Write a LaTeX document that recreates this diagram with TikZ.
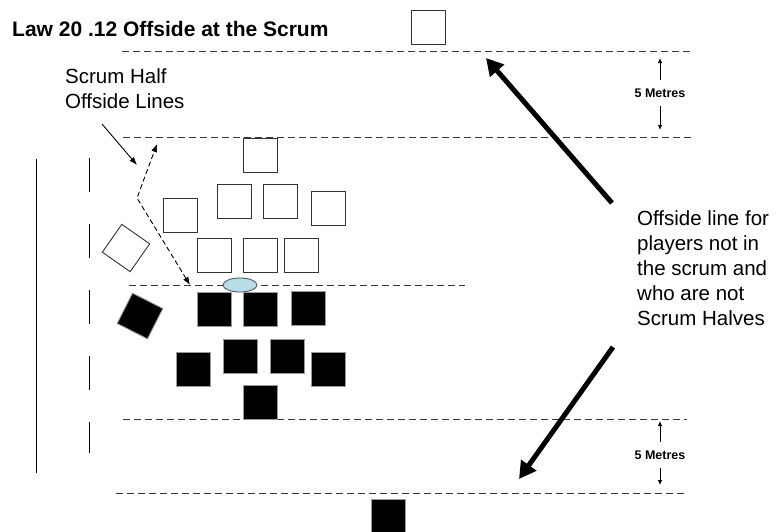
\documentclass[tikz,border=0pt]{standalone}
\usepackage{fontspec}
\setmainfont{Liberation Sans}
\usepackage{xcolor}
\usepackage{tikz}
\usetikzlibrary{arrows.meta, shapes.geometric}
\definecolor{ballcolor}{RGB}{183,221,232}
\definecolor{linecolor}{RGB}{55,55,55}

\begin{document}
\begin{tikzpicture}[x=1pt, y=-1pt,
    attacker/.style={rectangle, draw=black!80, fill=white, line width=0.9pt, minimum size=34pt, inner sep=0pt},
    defender/.style={rectangle, draw=black!40, fill=black, line width=0.9pt, minimum size=34pt, inner sep=0pt},
    offline/.style={draw=linecolor, line width=1pt, dash pattern=on 7pt off 4pt},
    bigarrow/.style={-{Triangle[length=17pt,width=18pt]}, line width=5pt},
    dimarrow/.style={-{Latex[length=5pt,width=4.5pt]}, line width=0.8pt},
    halfline/.style={{Latex[length=8pt,width=6pt]}-{Latex[length=8pt,width=6pt]}, line width=0.9pt, dash pattern=on 5pt off 3pt},
    notetext/.style={font=\fontsize{20.5}{25}\selectfont, align=left, anchor=north west, inner sep=0pt},
    metres/.style={font=\fontsize{12.5}{15}\selectfont\bfseries, inner xsep=2pt, inner ysep=8pt}]
                \useasboundingbox (0,0) rectangle (778,531);

                \draw[line width=0.9pt] (36,159) -- (36,473);
                \draw[line width=0.9pt, dash pattern=on 33.5pt off 32.5pt] (89,158) -- (89,453);

                \draw[offline] (122,51) -- (693,51);
                \draw[offline] (123,137) -- (692,137);
                \draw[offline] (129,285) -- (465,285);
                \draw[offline] (123,419) -- (687,419);
                \draw[offline] (116,493) -- (687,493);

                \node[anchor=base west, inner sep=0pt, font=\fontsize{21}{25}\selectfont\bfseries] (title) at (12,36) {Law 20 .12 Offside at the Scrum};

                \node[attacker] (wback) at (428.5,27) {};
                \node[attacker] (whalf) at (126,248) [rotate=55] {};
                \node[attacker] (w8) at (260,155) {};
                \node[attacker] (w6) at (234,201) {};
                \node[attacker] (w7) at (280.5,201) {};
                \node[attacker] (wflankr) at (328,208) {};
                \node[attacker] (wflankl) at (180,215) {};
                \node[attacker] (wprop1) at (214,255.5) {};
                \node[attacker] (whook) at (260,255.5) {};
                \node[attacker] (wprop3) at (301,255.5) {};

                \node[ellipse, draw=black!70, fill=ballcolor, line width=0.8pt, minimum width=34pt, minimum height=14pt, inner sep=0pt] (ball) at (240,285) {};

                \node[defender] (bhalf) at (140,316) [rotate=63] {};
                \node[defender] (bprop1) at (214,309) {};
                \node[defender] (bhook) at (260.5,309) {};
                \node[defender] (bprop3) at (308,308.5) {};
                \node[defender] (bflankl) at (193.5,369) {};
                \node[defender] (b4) at (240.5,356) {};
                \node[defender] (b5) at (287.5,356) {};
                \node[defender] (bflankr) at (328,369) {};
                \node[defender] (b8) at (260.5,402.5) {};
                \node[defender] (bback) at (388.5,516) {};

                \node[notetext] (shnote) at (65,68) {Scrum Half\\Offside Lines};
                \coordinate (shfrom) at (102,124);
                \coordinate (shto) at (137,165);
                \coordinate (shball) at (190,285);
                \coordinate (shknee) at (137,198);
                \coordinate (shtop) at (157,144);
                \draw[-{Latex[length=8pt,width=6pt]}, line width=0.9pt] (shfrom) -- (shto);
                \draw[halfline] (shball) -- (shknee) -- (shtop);

                \node[notetext] (offnote) at (637,210) {Offside line for\\players not in\\the scrum and\\who are not\\Scrum Halves};
                \coordinate (uptail) at (612,203);
                \coordinate (uptip) at (486,58);
                \coordinate (downtail) at (613,347);
                \coordinate (downtip) at (519,479);
                \draw[bigarrow] (uptail) -- (uptip);
                \draw[bigarrow] (downtail) -- (downtip);

                \node[metres] (dimtop) at (660,93) {5 Metres};
                \coordinate (dimtopup) at (660,58);
                \coordinate (dimtopdown) at (660,130);
                \draw[dimarrow] (dimtop) -- (dimtopup);
                \draw[dimarrow] (dimtop) -- (dimtopdown);

                \node[metres] (dimbot) at (660,455) {5 Metres};
                \coordinate (dimbotup) at (660,421);
                \coordinate (dimbotdown) at (660,485);
                \draw[dimarrow] (dimbot) -- (dimbotup);
                \draw[dimarrow] (dimbot) -- (dimbotdown);
            \end{tikzpicture}
\end{document}
